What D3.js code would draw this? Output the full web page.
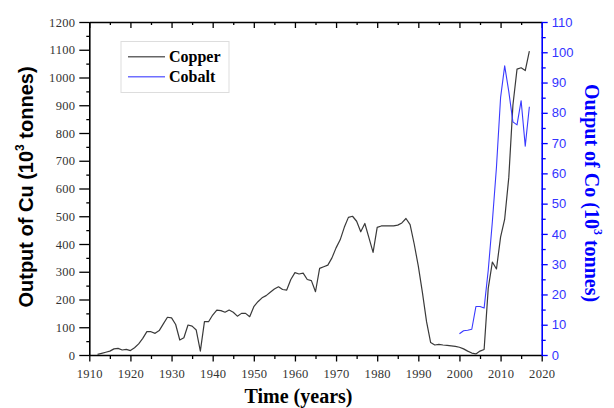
<!DOCTYPE html>
<html>
<head>
<meta charset="utf-8">
<script src="https://cdn.jsdelivr.net/npm/d3@7"></script>
<style>
  body { margin: 0; background: #fff; }
  svg { display: block; }
  .tick text { font-family: "Liberation Serif", "Times New Roman", serif; }
</style>
</head>
<body>
<div id="chart"></div>
<script>
// copper output (10^3 t), annual
const cuYears = d3.range(1912, 2018);
const cuValues = [
  2, 6, 10, 14, 22, 24, 18, 20, 16, 26,          // 1912-1921
  40, 60, 84, 84, 78, 88, 112, 136, 134, 110,    // 1922-1931
  54, 62, 108, 104, 90, 14, 120, 120, 144, 162,  // 1932-1941
  160, 154, 162, 154, 140, 150, 150, 138, 174, 192, // 1942-1951
  206, 214, 226, 238, 246, 236, 234, 272, 297, 292, // 1952-1961
  295, 272, 268, 228, 312, 318, 324, 350, 386, 415, // 1962-1971
  460, 496, 500, 482, 444, 474, 422, 370, 460, 465, // 1972-1981
  465, 465, 465, 468, 476, 492, 470, 400, 320, 225, // 1982-1991
  120, 45, 36, 38, 36, 35, 33, 31, 28, 22,       // 1992-2001
  14, 7, 4, 14, 20, 240, 335, 310, 425, 490,     // 2002-2011
  640, 900, 1030, 1035, 1025, 1095               // 2012-2017
];

// cobalt output (10^3 t), annual
const coYears = d3.range(2000, 2018);
const coValues = [
  7, 8, 8.2, 8.5, 16, 16, 15.5, 28, 44, 62,
  85, 95.5, 87, 77, 76, 84, 69, 82
];

const xTicks = d3.range(1910, 2021, 10);
const cuTicks = d3.range(0, 1201, 100);
const coTicks = d3.range(0, 111, 10);

const W = 614, H = 408;
const L = 89.3, R = 541.7, T = 22, B = 355;

const svg = d3.select('#chart').append('svg')
    .attr('width', W)
    .attr('height', H);

const x = d3.scaleLinear().domain([1910, 2020]).range([L, R]);
const yCu = d3.scaleLinear().domain([0, 1200]).range([B, T]);
const yCo = d3.scaleLinear().domain([0, 110]).range([B, T]);

// small helper to draw a major+minor tick axis
const drawAxis = (axisFn, scale, major, minor, size, minorSize, pad, transform, color, labels) => {
  const gMinor = svg.append('g')
      .attr('transform', transform)
      .call(axisFn(scale).tickValues(minor).tickSize(minorSize).tickFormat(''));
  gMinor.select('.domain').remove();
  const g = svg.append('g')
      .attr('transform', transform)
      .call(axisFn(scale).tickValues(major).tickSize(size).tickSizeOuter(0)
        .tickPadding(pad).tickFormat(labels ? d3.format('d') : ''));
  gMinor.selectAll('line').attr('stroke', color).attr('stroke-width', 1.3);
  g.selectAll('line').attr('stroke', color).attr('stroke-width', 1.3);
  g.select('.domain').attr('stroke', color).attr('stroke-width', 1.6);
  return g;
};

// bottom axis
const gx = drawAxis(d3.axisBottom, x, xTicks, d3.range(1915, 2020, 10), 6.5, 4, 8,
  `translate(0,${B})`, '#000', true);
gx.selectAll('text')
    .attr('font-size', 12.5)
    .attr('letter-spacing', 0.3)
    .attr('fill', '#333');

// top axis (ticks inward, no labels)
drawAxis(d3.axisTop, x, xTicks, d3.range(1915, 2020, 10), -6, -3, 0,
  `translate(0,${T})`, '#000', false);

// left axis
const gl = drawAxis(d3.axisLeft, yCu, cuTicks, d3.range(50, 1200, 100), 10, 3, 4,
  `translate(${L},0)`, '#000', true);
gl.selectAll('text')
    .attr('font-size', 12.5)
    .attr('letter-spacing', 0.3)
    .attr('fill', '#333');

// right axis (cobalt)
const gr = drawAxis(d3.axisRight, yCo, coTicks, d3.range(5, 110, 10), 6, 4, 4,
  `translate(${R},0)`, '#0000ff', true);
gr.selectAll('text')
    .attr('font-size', 13)
    .attr('fill', '#3333ff')
    .style('font-family', '"Liberation Sans", Arial, sans-serif');

// lines
const cuLine = d3.line()
    .x((d, i) => x(cuYears[i]))
    .y(d => yCu(d));
const coLine = d3.line()
    .x((d, i) => x(coYears[i]))
    .y(d => yCo(d));

svg.append('path')
    .datum(cuValues)
    .attr('fill', 'none')
    .attr('stroke', '#3a3a3a')
    .attr('stroke-width', 1.2)
    .attr('stroke-linejoin', 'round')
    .attr('d', cuLine);

svg.append('path')
    .datum(coValues)
    .attr('fill', 'none')
    .attr('stroke', '#3a3aff')
    .attr('stroke-width', 1.1)
    .attr('stroke-linejoin', 'round')
    .attr('d', coLine);

// axis titles
svg.append('text')
    .attr('x', (L + R) / 2 - 17)
    .attr('y', 403)
    .attr('text-anchor', 'middle')
    .attr('font-family', '"Liberation Serif", "Times New Roman", serif')
    .attr('font-weight', 'bold')
    .attr('font-size', 20)
    .text('Time (years)');

const leftTitle = svg.append('text')
    .attr('transform', 'translate(33,187) rotate(-90)')
    .attr('text-anchor', 'middle')
    .attr('font-family', '"Liberation Sans", Arial, sans-serif')
    .attr('font-weight', 'bold')
    .attr('font-size', 20);
leftTitle.append('tspan').text('Output of Cu (10');
leftTitle.append('tspan').attr('font-size', 12).attr('dy', -9).text('3');
leftTitle.append('tspan').attr('dy', 9).text(' tonnes)');

const rightTitle = svg.append('text')
    .attr('transform', 'translate(585,193) rotate(90)')
    .attr('text-anchor', 'middle')
    .attr('fill', '#0000ff')
    .attr('font-family', '"Liberation Serif", "Times New Roman", serif')
    .attr('font-weight', 'bold')
    .attr('font-size', 20);
rightTitle.append('tspan').text('Output of Co (10');
rightTitle.append('tspan').attr('font-size', 12).attr('dy', -9).text('3');
rightTitle.append('tspan').attr('dy', 9).text(' tonnes)');

// legend
const legend = svg.append('g');
legend.append('rect')
    .attr('x', 121).attr('y', 41.5)
    .attr('width', 108).attr('height', 51)
    .attr('fill', '#fff')
    .attr('stroke', '#ddd');
const legendItems = [
  { name: 'Copper', color: '#666', y: 56.7 },
  { name: 'Cobalt', color: '#6f6fff', y: 76.7 }
];
legendItems.forEach(d => {
  legend.append('line')
      .attr('x1', 128).attr('x2', 165)
      .attr('y1', d.y).attr('y2', d.y)
      .attr('stroke', d.color)
      .attr('stroke-width', 1.5);
  legend.append('text')
      .attr('x', 169).attr('y', d.y + 5)
      .attr('font-family', '"Liberation Serif", "Times New Roman", serif')
      .attr('font-weight', 'bold')
      .attr('font-size', 16)
      .attr('fill', '#000')
      .text(d.name);
});
</script>
</body>
</html>
